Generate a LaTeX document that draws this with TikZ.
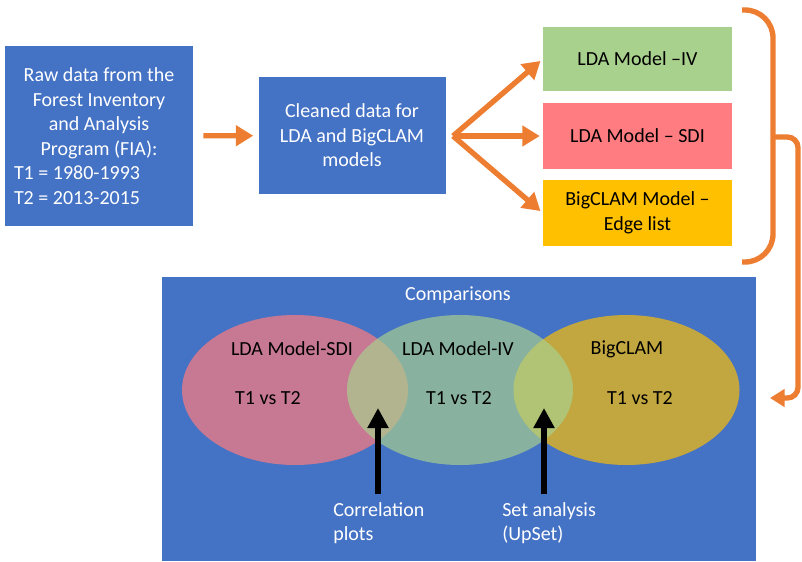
\documentclass[tikz,border=0pt]{standalone}
\usepackage{fontspec}
\setmainfont{Carlito}
\usetikzlibrary{arrows.meta}
\definecolor{fiablue}{HTML}{4472C4}
\definecolor{ivgreen}{HTML}{A9D18E}
\definecolor{sdired}{HTML}{FF7C80}
\definecolor{edgegold}{HTML}{FFC000}
\definecolor{flow}{HTML}{ED7D31}
\tikzset{
    txt/.style={font=\fontsize{15}{18.4}\selectfont, inner sep=0pt},
    box/.style={txt, rectangle, minimum width=141.75pt, align=center},
    flowline/.style={draw=flow, line width=4pt},
}
\newcommand{\periodline}[1]{\makebox[127.5pt][l]{#1}}

\begin{document}
\begin{tikzpicture}[x=0.75pt,y=-0.75pt]
        \useasboundingbox (0,0) rectangle (802,561);

        \begin{scope}[every node/.style={box}]
            \node (raw) [fill=fiablue, text=white, minimum width=141pt, minimum height=135pt] at (99,136)
                {Raw data from the\\Forest Inventory\\and Analysis\\Program (FIA):\\\periodline{T1 = 1980-1993}\\\periodline{T2 = 2013-2015}};
            \node (clean) [fill=fiablue, text=white, minimum width=140.25pt, minimum height=87.75pt] at (352,135.5)
                {Cleaned data for\\LDA and BigCLAM\\models};
            \node (iv) [fill=ivgreen, minimum height=48pt] at (637.5,59) {LDA Model –IV};
            \node (sdi) [fill=sdired, minimum height=49.5pt] at (637.5,136) {LDA Model – SDI};
            \node (edge) [fill=edgegold, minimum height=49.5pt] at (637.5,213) {BigCLAM Model –\\Edge list};
            \node (cmp) [fill=fiablue, minimum width=445.5pt, minimum height=213pt] at (459,419) {};
        \end{scope}

        \fill[sdired, fill opacity=0.7] (295,390) ellipse [x radius=84.75pt, y radius=56.25pt];
        \fill[edgegold, fill opacity=0.68] (626.5,390) ellipse [x radius=84.75pt, y radius=56.25pt];
        \fill[ivgreen, fill opacity=0.68] (460,390) ellipse [x radius=84.75pt, y radius=56.25pt];

        \begin{scope}[every node/.style={txt}]
            \node (cmpT) [text=white] at (458,295) {Comparisons};
            \node (sdiA) at (292,349) {LDA Model-SDI};
            \node (ivA) at (458,349) {LDA Model-IV};
            \node (bigA) at (627,349) {BigCLAM};
            \node (sdiB) at (268,398) {T1 vs T2};
            \node (ivB) at (459,398) {T1 vs T2};
            \node (bigB) at (640,398) {T1 vs T2};
            \node (corr) [text=white, align=left, anchor=north west] at (333,502) {Correlation\\plots};
            \node (upset) [text=white, align=left, anchor=north west] at (502,502) {Set analysis\\(UpSet)};
        \end{scope}

        \coordinate (fan) at (453,136);
        \coordinate (corrTip) at (378,408);
        \coordinate (setTip) at (544,408);
        \coordinate (brTop) at (742,10);
        \coordinate (brMid) at (773,137);
        \coordinate (brBot) at (742,262);
        \coordinate (cmpIn) at (770,398);

        \begin{scope}[every edge/.style={flowline, -{Triangle[width=15pt,length=13pt]}}]
            \path (raw) edge[shorten <=7.5pt, shorten >=3.75pt] (clean);
            \path (fan) edge[shorten >=2.25pt] (iv.west);
            \path (fan) edge[shorten >=2.25pt] (sdi.west);
            \path (fan) edge[shorten >=2.25pt] (edge.west);
        \end{scope}

        \begin{scope}[every edge/.style={draw=black, line width=5pt, -{Triangle[width=15pt,length=15pt]}}]
            \path (corrTip |- corr.north) edge[shorten <=6pt] (corrTip);
            \path (setTip |- upset.north) edge[shorten <=6pt] (setTip);
        \end{scope}

        \draw[flowline, rounded corners=21pt] (brTop) -- (773,10) -- (773,262) -- (brBot);
        \draw[flowline, rounded corners=8pt, -{Triangle[width=13pt,length=11pt]}] (brMid) -- (798,137) -- (798,398) -- (cmpIn);
    \end{tikzpicture}
\end{document}
